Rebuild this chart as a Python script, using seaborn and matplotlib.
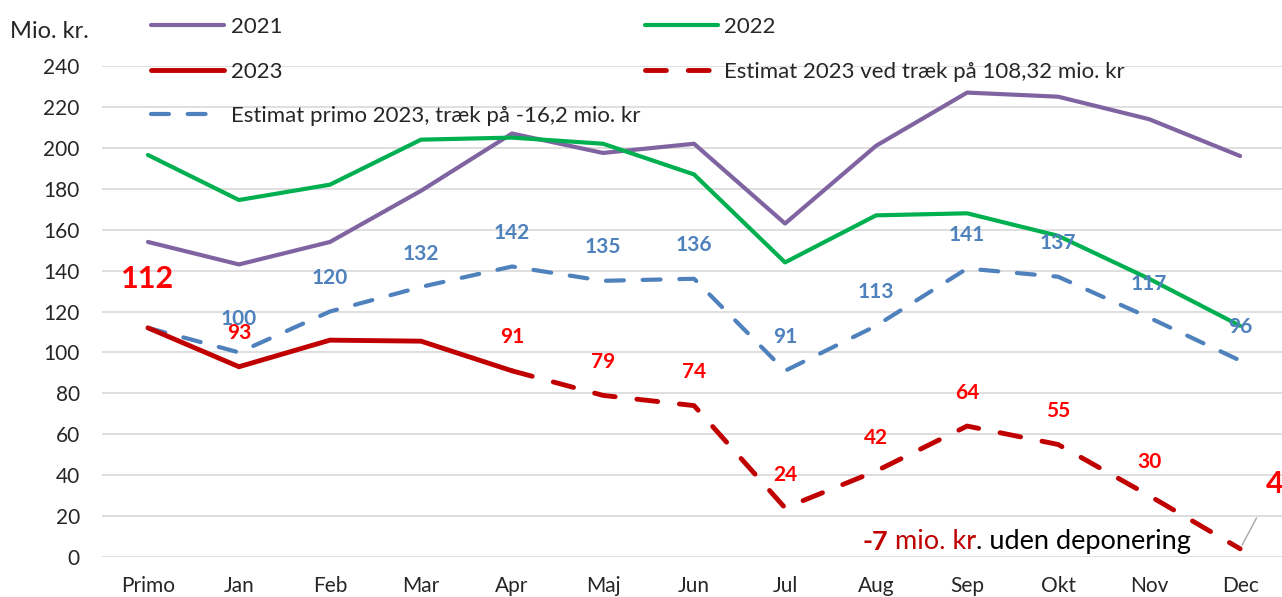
import numpy as np
import matplotlib
matplotlib.use("Agg")
import matplotlib.pyplot as plt
import seaborn as sns
from matplotlib.lines import Line2D

# data
months = ["Primo", "Jan", "Feb", "Mar", "Apr", "Maj", "Jun", "Jul", "Aug", "Sep", "Okt", "Nov", "Dec"]
y2021 = [154, 143, 154, 179, 207, 197.5, 202, 163, 201, 227, 225, 214, 196]
y2022 = [196.5, 174.5, 182, 204, 205, 202, 187, 144, 167, 168, 157, 136, 113]
y2023 = [112, 93, 106, 105.5, 91]
est2023 = [91, 79, 74, 24, 42, 64, 55, 30, 4]
est_primo = [112, 100, 120, 132, 142, 135, 136, 91, 113, 141, 137, 117, 96]

red_labels = ["112", "93", "", "", "91", "79", "74", "24", "42", "64", "55", "30", "4"]
blue_labels = ["", "100", "120", "132", "142", "135", "136", "91", "113", "141", "137", "117", "96"]

sns.set_style("white")
plt.rcParams['font.family'] = ['Lato', 'DejaVu Sans']

PURPLE = "#8064A2"
GREEN = "#00B050"
DARKRED = "#C00000"
BLUE = "#4F81BD"
RED = "#FF0000"
DASH = (4.3, 4.5)

fig = plt.figure(figsize=(12.82, 5.97), dpi=100)
ax = fig.add_axes([102 / 1282, 40 / 597, 1 - 102 / 1282, 491 / 597])

x = np.arange(len(months))
sns.lineplot(x=x, y=y2021, ax=ax, color=PURPLE, lw=3)
sns.lineplot(x=x, y=y2022, ax=ax, color=GREEN, lw=3)
sns.lineplot(x=x, y=est_primo, ax=ax, color=BLUE, lw=3)
ax.lines[-1].set_dashes(DASH)
ax.lines[-1].set_dash_capstyle("round")
sns.lineplot(x=x[:len(y2023)], y=y2023, ax=ax, color=DARKRED, lw=3.5)
sns.lineplot(x=x[4:], y=est2023, ax=ax, color=DARKRED, lw=3.5)
ax.lines[-1].set_dashes(DASH)
ax.lines[-1].set_dash_capstyle("round")

# data labels
for i, lab in enumerate(blue_labels):
    if not lab:
        continue
    ax.annotate(lab, (x[i], est_primo[i]), xytext=(0, 24), textcoords="offset points",
                ha="center", va="center", color=BLUE, fontsize=15, fontweight="bold")

red_vals = y2023[:4] + est2023
for i, lab in enumerate(red_labels):
    if not lab:
        continue
    if i == 0:
        ax.annotate(lab, (x[i], red_vals[i]), xytext=(0, 35), textcoords="offset points",
                    ha="center", va="center", color=RED, fontsize=22, fontweight="bold")
    elif i == 12:
        ax.annotate(lab, (x[i], red_vals[i]), xytext=(25, 47), textcoords="offset points",
                    ha="center", va="center", color=RED, fontsize=22, fontweight="bold",
                    arrowprops=dict(arrowstyle="-", color="#A6A6A6", lw=1,
                                    shrinkA=14, shrinkB=3))
    else:
        ax.annotate(lab, (x[i], red_vals[i]), xytext=(0, 24), textcoords="offset points",
                    ha="center", va="center", color=RED, fontsize=15, fontweight="bold")

# note at the bottom right, in pieces of different colour
t = ax.text(7.85, 3.4, "-7", color=DARKRED, fontsize=19.5, fontweight="bold",
            ha="left", va="baseline")
t = ax.annotate(" mio. kr", xycoords=t, xy=(1, 0), va="bottom", ha="left",
                color=DARKRED, fontsize=19.5)
ax.annotate(". uden deponering", xycoords=t, xy=(1, 0), va="bottom", ha="left",
            color="black", fontsize=19.5)

ax.set_xlim(-0.505, 12.46)
ax.set_ylim(0, 240)
ax.set_yticks(range(0, 241, 20))
ax.set_xticks(x)
ax.set_xticklabels(months)
ax.tick_params(axis="both", labelsize=15, length=0)
ax.tick_params(axis="y", pad=16)
ax.tick_params(axis="x", pad=14)
ax.grid(axis="y", color="#D9D9D9", lw=1.2)
ax.set_axisbelow(True)
for s in ax.spines.values():
    s.set_visible(False)

fig.text(10 / 1282, 1 - 32 / 597, "Mio. kr.", fontsize=17, va="center", ha="left")

handles = [
    Line2D([], [], color=PURPLE, lw=3),
    Line2D([], [], color=DARKRED, lw=3.5),
    Line2D([], [], color=BLUE, lw=3, dashes=DASH, dash_capstyle="round"),
    Line2D([], [], color=GREEN, lw=3),
    Line2D([], [], color=DARKRED, lw=3.5, dashes=DASH, dash_capstyle="round"),
]
labels = ["2021", "2023", "Estimat primo 2023, træk på -16,2 mio. kr",
          "2022", "Estimat 2023 ved træk på 108,32 mio. kr"]
fig.legend(handles, labels, loc="upper left", bbox_to_anchor=(140 / 1282, 1 - 6 / 597),
           ncol=2, frameon=False, fontsize=16, borderpad=0, handlelength=3.3,
           handletextpad=0.28, labelspacing=1.1, columnspacing=0.2)

fig.savefig("out.png", dpi=100)
